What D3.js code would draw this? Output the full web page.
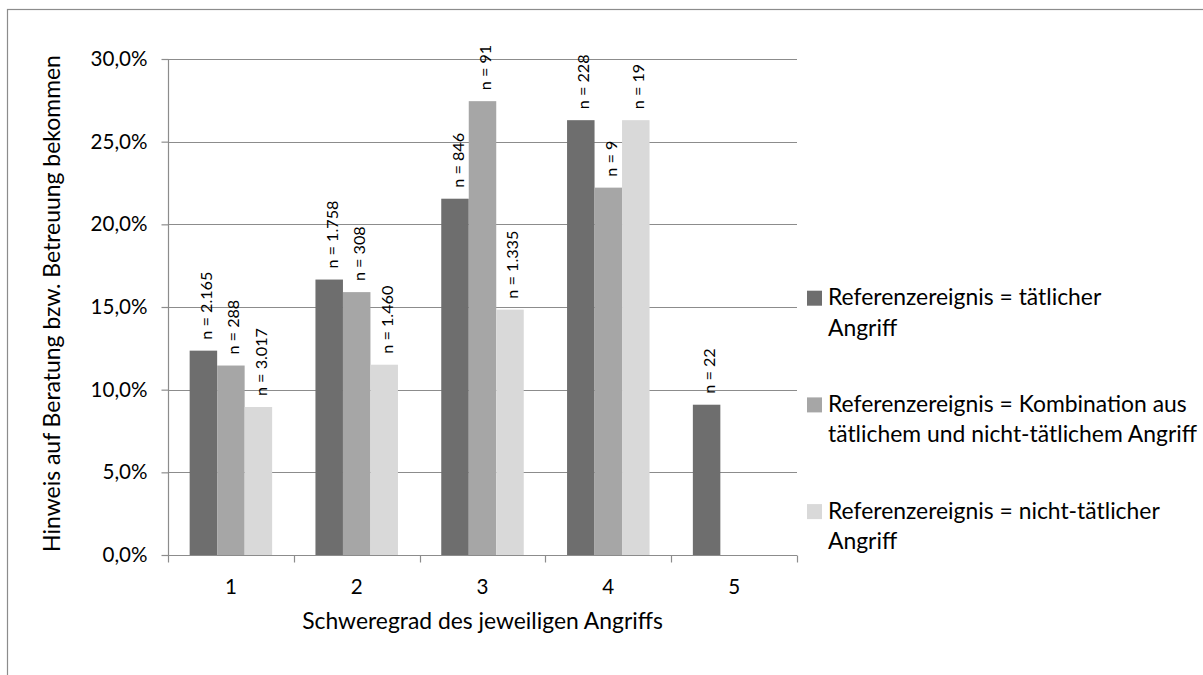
<!DOCTYPE html>
<html>
<head>
<meta charset="utf-8">
<script src="https://cdn.jsdelivr.net/npm/d3@7"></script>
<style>
  html, body { margin: 0; padding: 0; background: #fff; }
  svg { display: block; }
  text { font-family: Lato, "Open Sans", sans-serif; fill: #000; }
</style>
</head>
<body>
<svg id="chart" width="1203" height="675"></svg>
<script>
// ---- data ----
const categories = ["1", "2", "3", "4", "5"];
const seriesNames = ["taetlich", "kombination", "nichtTaetlich"];
const legendLines = [
  ["Referenzereignis = tätlicher", "Angriff"],
  ["Referenzereignis = Kombination aus", "tätlichem und nicht-tätlichem Angriff"],
  ["Referenzereignis = nicht-tätlicher", "Angriff"]
];
const valuesTaetlich      = [0.1236, 0.1666, 0.2155, 0.2630, 0.0909];
const valuesKombination   = [0.1146, 0.1590, 0.2745, 0.2222, null];
const valuesNichtTaetlich = [0.0895, 0.1151, 0.1484, 0.2630, null];
const nTaetlich      = ["n = 2.165", "n = 1.758", "n = 846", "n = 228", "n = 22"];
const nKombination   = ["n = 288", "n = 308", "n = 91", "n = 9", null];
const nNichtTaetlich = ["n = 3.017", "n = 1.460", "n = 1.335", "n = 19", null];
const yTicks = [0, 0.05, 0.10, 0.15, 0.20, 0.25, 0.30];
const yTitle = "Hinweis auf Beratung bzw. Betreuung bekommen";
const xTitle = "Schweregrad des jeweiligen Angriffs";

// ---- setup ----
const colors = ["#6e6e6e", "#a6a6a6", "#d9d9d9"];
const seriesValues = [valuesTaetlich, valuesKombination, valuesNichtTaetlich];
const seriesN = [nTaetlich, nKombination, nNichtTaetlich];

const svg = d3.select("#chart");
const FONT = 'Lato, "Open Sans", sans-serif';

function fitSize(str, targetWidth) {
  const t = svg.append("text").attr("font-size", 100).style("font-family", FONT).text(str);
  const w = t.node().getComputedTextLength();
  t.remove();
  return 100 * targetWidth / w;
}

const fsTick = fitSize("30,0%", 57);
const fsTitleY = fitSize(yTitle, 497);
const fsTitleX = fitSize(xTitle, 361);
const fsLegend = fitSize(legendLines[1][0], 359);
const fsN = fitSize("n = 2.165", 68);

// outer frame
svg.append("rect")
  .attr("x", 7.5).attr("y", 9.5)
  .attr("width", 1220).attr("height", 700)
  .attr("fill", "none").attr("stroke", "#8c8c8c").attr("stroke-width", 1.2);

const x0 = 168, x1 = 797, yBottom = 555, yTop = 59;

const x = d3.scaleBand().domain(categories).range([x0, x1]).paddingInner(0).paddingOuter(0);
const xs = d3.scaleBand().domain(seriesNames).range([0, x.bandwidth()]).paddingInner(0).paddingOuter(0.7875);
const y = d3.scaleLinear().domain([0, 0.30]).range([yBottom, yTop]);

const locale = d3.formatLocale({ decimal: ",", thousands: ".", grouping: [3], currency: ["", "€"] });
const pct = locale.format(".1%");

// gridlines
svg.append("g").selectAll("line")
  .data(yTicks.filter(d => d > 0))
  .join("line")
  .attr("x1", x0).attr("x2", x1)
  .attr("y1", d => Math.round(y(d)) + 0.5).attr("y2", d => Math.round(y(d)) + 0.5)
  .attr("stroke", "#8c8c8c").attr("stroke-width", 1.2);

// y axis
const yAxis = svg.append("g")
  .attr("transform", `translate(${x0 + 0.5},0)`)
  .call(d3.axisLeft(y).tickValues(yTicks).tickSize(7).tickPadding(14).tickFormat(pct));
yAxis.selectAll("line").attr("stroke", "#8c8c8c").attr("stroke-width", 1.2);
yAxis.select(".domain").attr("stroke", "#8c8c8c").attr("stroke-width", 1.2).attr("d", `M0,${yTop}V${yBottom}`);
yAxis.selectAll("text").attr("font-size", fsTick).style("font-family", FONT).attr("fill", "#000");

// bars
const groups = svg.append("g").selectAll("g")
  .data(seriesNames)
  .join("g")
  .attr("fill", (d, i) => colors[i]);

groups.each(function (s, si) {
  const vals = seriesValues[si];
  d3.select(this).selectAll("rect")
    .data(categories.map((c, ci) => ({ c, v: vals[ci] })).filter(d => d.v != null))
    .join("rect")
    .attr("x", d => x(d.c) + xs(s))
    .attr("width", xs.bandwidth())
    .attr("y", d => y(d.v))
    .attr("height", d => y(0) - y(d.v));
});

// n labels
const labelGap = 11;
const labelData = [];
seriesNames.forEach((s, si) => {
  categories.forEach((c, ci) => {
    if (seriesValues[si][ci] != null && seriesN[si][ci]) {
      labelData.push({ s, c, v: seriesValues[si][ci], t: seriesN[si][ci] });
    }
  });
});
svg.append("g").selectAll("text")
  .data(labelData)
  .join("text")
  .attr("transform", d => `translate(${x(d.c) + xs(d.s) + xs.bandwidth() / 2 + 8.5},${y(d.v) - labelGap}) rotate(-90)`)
  .attr("font-size", fsN)
  .attr("text-anchor", "start")
  .text(d => d.t);

// x axis
const xAxisG = svg.append("g").attr("transform", `translate(0,${yBottom + 0.5})`);
xAxisG.call(d3.axisBottom(x).tickSize(0).tickPadding(0));
xAxisG.select(".domain").attr("stroke", "#8c8c8c").attr("stroke-width", 1.2).attr("d", `M${x0},0H${x1}`);
xAxisG.selectAll(".tick text")
  .attr("font-size", fsTick).style("font-family", FONT).attr("fill", "#000")
  .attr("dy", null).attr("y", 38);
const boundaries = categories.map(c => x(c)).concat([x.range()[1]]);
xAxisG.selectAll("line.bound")
  .data(boundaries)
  .join("line")
  .attr("class", "bound")
  .attr("x1", d => Math.round(d) + 0.5).attr("x2", d => Math.round(d) + 0.5)
  .attr("y1", 0).attr("y2", 7)
  .attr("stroke", "#8c8c8c").attr("stroke-width", 1.2);

// axis titles
svg.append("text")
  .attr("x", (x0 + x1) / 2).attr("y", 629)
  .attr("text-anchor", "middle")
  .attr("font-size", fsTitleX)
  .text(xTitle);

svg.append("text")
  .attr("transform", `translate(59.5,${(55 + 552) / 2}) rotate(-90)`)
  .attr("text-anchor", "middle")
  .attr("font-size", fsTitleY)
  .text(yTitle);

// legend
const legendTop = 290.7, legendStep = 106.7, lineH = 30.5;
const lg = svg.append("g").selectAll("g")
  .data(legendLines)
  .join("g")
  .attr("transform", (d, i) => `translate(807,${legendTop + i * legendStep})`);
lg.append("rect")
  .attr("width", 15).attr("height", 15)
  .attr("fill", (d, i) => colors[i]);
lg.append("text")
  .attr("font-size", fsLegend)
  .selectAll("tspan")
  .data(d => d)
  .join("tspan")
  .attr("x", 21)
  .attr("y", (d, i) => 14.5 + i * lineH)
  .text(d => d);
</script>
</body>
</html>
